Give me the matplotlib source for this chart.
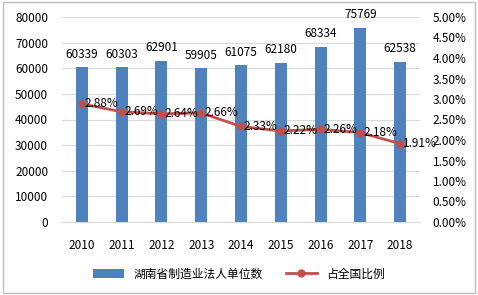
import matplotlib
matplotlib.use("Agg")
import matplotlib.pyplot as plt
from matplotlib.ticker import FuncFormatter

plt.rcParams['font.family'] = ['Noto Sans CJK SC', 'DejaVu Sans']

years = ["2010", "2011", "2012", "2013", "2014", "2015", "2016", "2017", "2018"]
units = [60339, 60303, 62901, 59905, 61075, 62180, 68334, 75769, 62538]
share = [2.88, 2.69, 2.64, 2.66, 2.33, 2.22, 2.26, 2.18, 1.91]

bar_color = "#4F81BD"
line_color = "#C0504D"

fig = plt.figure(figsize=(4.78, 2.95), dpi=100)
ax = fig.add_axes([62 / 478, 1 - 222 / 295, (420 - 62) / 478, (222 - 17) / 295])
ax2 = ax.twinx()

x = list(range(len(years)))
bars = ax.bar(x, units, width=0.3, color=bar_color, zorder=2, label="湖南省制造业法人单位数")
ax.set_ylim(0, 80000)
ax.set_yticks(range(0, 80001, 10000))
ax.set_xlim(-0.5, len(years) - 0.5)
ax.set_xticks(x)
ax.set_xticklabels(years)
ax.grid(axis="y", color="#D9D9D9", linewidth=0.8, zorder=0)
ax.set_axisbelow(True)

for xi, v in zip(x, units):
    ax.text(xi, v + 2500, str(v), ha="center", va="bottom", fontsize=8.5)

line, = ax2.plot(x, share, color=line_color, marker="o", markersize=5, linewidth=2,
                 zorder=3, label="占全国比例")
ax2.set_ylim(0, 5)
ax2.set_yticks([i * 0.5 for i in range(11)])
ax2.yaxis.set_major_formatter(FuncFormatter(lambda v, p: f"{v:.2f}%"))
for xi, v in zip(x, share):
    ax2.text(xi + 0.07, v, f"{v:.2f}%", ha="left", va="center", fontsize=8.5)

for a in (ax, ax2):
    for s in a.spines.values():
        s.set_visible(False)
    a.tick_params(length=0, labelsize=8.5)
ax.spines["bottom"].set_visible(True)
ax.spines["bottom"].set_color("#D9D9D9")
ax.tick_params(axis="x", pad=12)
ax.tick_params(axis="y", pad=10)
ax2.tick_params(axis="y", pad=9)

fig.legend([bars, line], ["湖南省制造业法人单位数", "占全国比例"], loc="center",
           bbox_to_anchor=(0.5, 1 - 274 / 295), ncol=2, frameon=False, fontsize=8.5,
           handlelength=2.6, columnspacing=2)

fig.patches.append(plt.Rectangle((0.006, 0.008), 0.988, 0.984, transform=fig.transFigure,
                                 fill=False, edgecolor="#BFBFBF", linewidth=1))

fig.savefig("out.png", dpi=100)
